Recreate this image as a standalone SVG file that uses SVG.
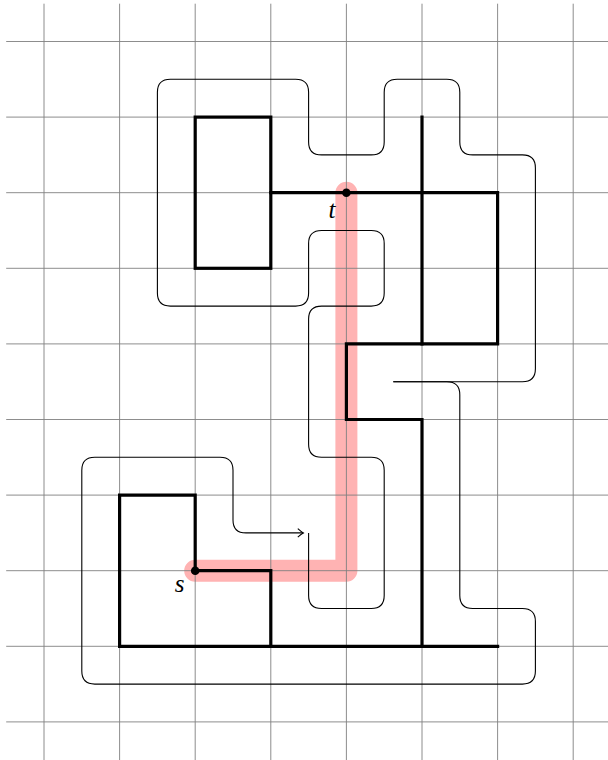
<svg xmlns="http://www.w3.org/2000/svg" width="608" height="760" viewBox="0 0 608 760">
<style>
.grid{stroke:#808080;stroke-width:0.9;fill:none}
.wall{stroke:#000;stroke-width:3.2;fill:none;stroke-linejoin:miter;stroke-linecap:square}
.walk{stroke:#000;stroke-width:1.1;fill:none}
.lbl{font-family:"Liberation Serif","DejaVu Serif",serif;font-style:italic;font-size:25px;fill:#000}
</style>
<defs>
<marker id="arr" markerUnits="userSpaceOnUse" viewBox="-8 -6 10 12" refX="0" refY="0" markerWidth="10" markerHeight="12" orient="auto" overflow="visible">
<path d="M -5.5 -4.2 Q -2 -1 0 0 Q -2 1 -5.5 4.2" fill="none" stroke="#000" stroke-width="1.1"/>
</marker>
</defs>
<rect width="608" height="760" fill="#fff"/>
<g id="route">
<path d="M 195.2 570.7 H 346.4 V 192.7" fill="none" stroke="#ffb3b3" stroke-width="22" stroke-linecap="round" stroke-linejoin="round"/>
</g>
<g id="grid" class="grid">
<path d="M 44 3.7 V 760 M 119.6 3.7 V 760 M 195.2 3.7 V 760 M 270.8 3.7 V 760 M 346.4 3.7 V 760 M 422 3.7 V 760 M 497.6 3.7 V 760 M 573.2 3.7 V 760"/>
<path d="M 6.2 41.5 H 608 M 6.2 117.1 H 608 M 6.2 192.7 H 608 M 6.2 268.3 H 608 M 6.2 343.9 H 608 M 6.2 419.5 H 608 M 6.2 495.1 H 608 M 6.2 570.7 H 608 M 6.2 646.3 H 608 M 6.2 721.9 H 608"/>
</g>
<g id="walls" class="wall">
<rect x="195.2" y="117.1" width="75.6" height="151.2"/>
<path d="M 270.8 192.7 H 497.6 V 343.9 H 346.4 V 419.5 H 422 V 646.3"/>
<path d="M 422 117.1 V 343.9"/>
<path d="M 497.6 646.3 H 119.6 V 495.1 H 195.2 V 570.7 H 270.8 V 646.3"/>
</g>
<g id="connectors" class="walk">
<path d="M 393.3 381.7 L 522.4 381.7 Q 535.4 381.7 535.4 368.7 L 535.4 167.9 Q 535.4 154.9 522.4 154.9 L 472.8 154.9 Q 459.8 154.9 459.8 141.9 L 459.8 92.3 Q 459.8 79.3 446.8 79.3 L 397.2 79.3 Q 384.2 79.3 384.2 92.3 L 384.2 141.9 Q 384.2 154.9 371.2 154.9 L 321.6 154.9 Q 308.6 154.9 308.6 141.9 L 308.6 92.3 Q 308.6 79.3 295.6 79.3 L 170.4 79.3 Q 157.4 79.3 157.4 92.3 L 157.4 293.1 Q 157.4 306.1 170.4 306.1 L 295.6 306.1 Q 308.6 306.1 308.6 293.1 L 308.6 243.5 Q 308.6 230.5 321.6 230.5 L 371.2 230.5 Q 384.2 230.5 384.2 243.5 L 384.2 293.1 Q 384.2 306.1 371.2 306.1 L 321.6 306.1 Q 308.6 306.1 308.6 319.1 L 308.6 444.3 Q 308.6 457.3 321.6 457.3 L 371.2 457.3 Q 384.2 457.3 384.2 470.3 L 384.2 595.5 Q 384.2 608.5 371.2 608.5 L 321.6 608.5 Q 308.6 608.5 308.6 595.5 L 308.6 532.9"/>
<path d="M 393.3 381.7 L 446.8 381.7 Q 459.8 381.7 459.8 394.7 L 459.8 595.5 Q 459.8 608.5 472.8 608.5 L 522.4 608.5 Q 535.4 608.5 535.4 621.5 L 535.4 671.1 Q 535.4 684.1 522.4 684.1 L 94.8 684.1 Q 81.8 684.1 81.8 671.1 L 81.8 470.3 Q 81.8 457.3 94.8 457.3 L 220 457.3 Q 233 457.3 233 470.3 L 233 519.9 Q 233 532.9 246 532.9 L 303.3 532.9" marker-end="url(#arr)"/>
</g>
<g id="s">
<circle cx="195.2" cy="570.7" r="4.3" fill="#000"/>
<text class="lbl" x="179.5" y="592" text-anchor="middle">s</text>
</g>
<g id="t">
<circle cx="346.4" cy="192.7" r="4.3" fill="#000"/>
<text class="lbl" x="332" y="218" text-anchor="middle">t</text>
</g>
</svg>
